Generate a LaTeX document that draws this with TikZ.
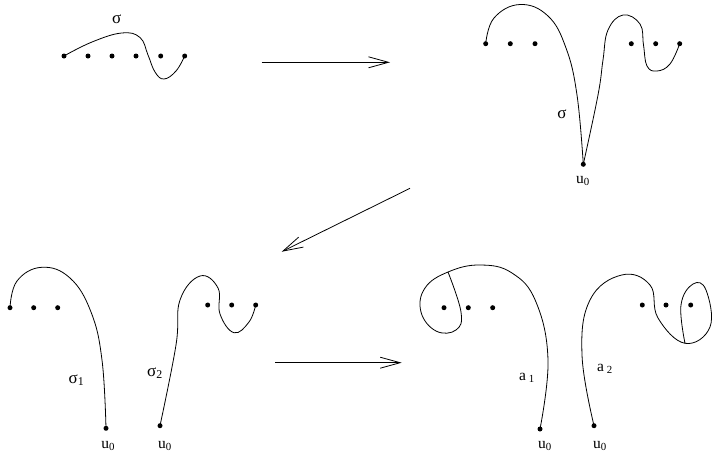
\documentclass[tikz,border=0pt]{standalone}
\usepackage{tikz}
\usetikzlibrary{arrows.meta}
\usepackage{fontspec}
\setmainfont{Liberation Serif}

\begin{document}
\begin{tikzpicture}[x=1pt, y=-1pt,
  d/.style={circle, fill=black, inner sep=0pt, minimum size=5pt},
  lbl/.style={inner sep=0pt, font=\fontsize{15.5}{18}\selectfont},
  sg/.style={lbl, font=\fontsize{17}{20}\selectfont},
  crv/.style={line width=0.8pt},
  arr/.style={-{Straight Barb[length=20pt, width=11pt]}, line width=0.8pt}
]
  \useasboundingbox (0,0) rectangle (713,459);
  % top left: sigma over the row of points
  \foreach \x [count=\i] in {64,88,112,136,160.7,184.7}
    \node[d] (tl\i) at (\x,56) {};
  \node[sg] (tls) at (116.7,19) {σ};
  \draw[crv] plot[smooth, tension=0.7] coordinates {(tl1) (92,42) (121.7,33) (140,37.5) (148,55) (155,72) (164,79) (176,71) (tl6)};

  % top right: sigma through u0
  \foreach \x [count=\i] in {485.7,510.3,535,631.3,655.7,679.7}
    \node[d] (tr\i) at (\x,43.7) {};
  \node[d] (tru) at (583.3,164.3) {};
  \node[sg] (trs) at (562,114.5) {σ};
  \node[lbl] (trl) at (583,181) {u\textsubscript{0}};
  \draw[crv] plot[smooth, tension=0.7] coordinates {(tr1) (494,18) (520,4.5) (548,16) (566,48) (577,95) (tru)};
  \draw[crv] plot[smooth, tension=0.7] coordinates {(tru) (598,95) (603,60) (608,30) (623,15) (640,24) (643.5,45) (647,66) (657,71) (670,64) (tr6)};

  % bottom left: sigma_1 and sigma_2
  \foreach \x [count=\i] in {10,33.7,57.7}
    \node[d] (bl\i) at (\x,307.7) {};
  \node[d] (blu) at (106,428.3) {};
  \node[sg] (bls) at (76.5,380) {σ\textsubscript{1}};
  \node[lbl] (bll) at (108.3,446) {u\textsubscript{0}};
  \draw[crv] plot[smooth, tension=0.7] coordinates {(bl1) (17,281) (41.7,267.3) (70,278) (91,312) (102,360) (blu)};

  \foreach \x [count=\i] in {207.7,231.7,255.7}
    \node[d] (bm\i) at (\x,305) {};
  \node[d] (bmu) at (160,425.7) {};
  \node[sg] (bms) at (155,373) {σ\textsubscript{2}};
  \node[lbl] (bml) at (165,446) {u\textsubscript{0}};
  \draw[crv] plot[smooth, tension=0.7] coordinates {(bmu) (176,345) (180,300) (200,276) (218,288) (220,314) (234,332.7) (249,322) (bm3)};

  % bottom right: a_1 and a_2
  \foreach \x [count=\i] in {444,468.3,492.7}
    \node[d] (br\i) at (\x,307.7) {};
  \node[d] (bru) at (540,429) {};
  \node[lbl] (bra) at (527,378) {a\textsubscript{ 1}};
  \node[lbl] (brl) at (545,446) {u\textsubscript{0}};
  \draw[crv] plot[smooth, tension=0.7] coordinates {(bru) (548,360) (536,302) (512,273) (480,265) (448,272) (425,288) (421,312) (436,331) (456,330) (461,312) (448,272)};

  \foreach \x [count=\i] in {642.3,666,690.7}
    \node[d] (bq\i) at (\x,305) {};
  \node[d] (bqu) at (594,425.7) {};
  \node[lbl] (bqa) at (605,369) {a\textsubscript{ 2}};
  \node[lbl] (bql) at (600,446) {u\textsubscript{0}};
  \draw[crv] plot[smooth, tension=0.7] coordinates {(bqu) (582,355) (590,300) (621.7,275) (650,285) (658,318) (685,343.3) (710,327) (706,290) (693,284) (681,305) (685,343.3)};

  % arrows between the stages
  \coordinate (a1s) at (261.7,62.3);
  \coordinate (a1e) at (390,62.3);
  \coordinate (a2s) at (410,188.3);
  \coordinate (a2e) at (281.7,251.7);
  \coordinate (a3s) at (275,362.7);
  \coordinate (a3e) at (401.7,362.7);
  \draw[arr] (a1s) -- (a1e);
  \draw[arr] (a2s) -- (a2e);
  \draw[arr] (a3s) -- (a3e);
\end{tikzpicture}
\end{document}
